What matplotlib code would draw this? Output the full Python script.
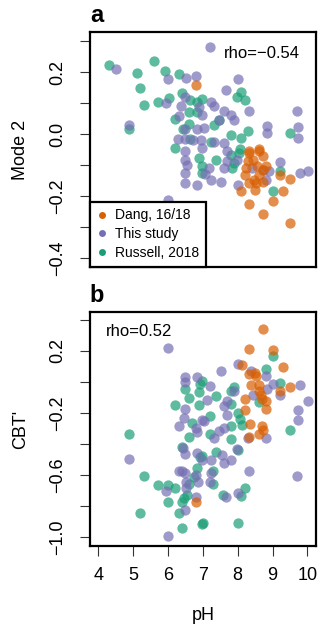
import matplotlib
matplotlib.use("Agg")
import matplotlib.pyplot as plt
from matplotlib.lines import Line2D

plt.rcParams["font.family"] = ["Liberation Sans", "DejaVu Sans"]

# ── data: panel a (Mode 2 vs pH) ──────────────────────────────────────────────
dang_ph_a = [6.81, 8.31, 8.61, 8.32, 8.61, 8.71, 8.28, 8.23, 8.56, 8.80, 9.21,
             8.61, 8.47, 8.32, 8.52, 8.71, 9.50, 8.10, 8.49, 9.31, 8.31, 9.00,
             8.71, 9.50, 8.43, 8.72, 8.20]
dang_mode2 = [0.160, -0.055, -0.047, -0.061, -0.056, -0.072, -0.088, -0.110,
              -0.104, -0.104, -0.133, -0.131, -0.147, -0.158, -0.158, -0.153,
              -0.144, -0.185, -0.180, -0.183, -0.225, -0.217, -0.258, -0.287,
              -0.084, -0.116, -0.132]

study_ph_a = [7.20, 4.51, 6.00, 6.51, 6.81, 8.01, 7.65, 5.95, 6.50, 6.37, 6.88,
              6.98, 6.31, 7.22, 7.31, 7.60, 7.82, 8.32, 9.70, 7.89, 4.89, 6.50,
              6.82, 8.83, 8.83, 9.72, 9.72, 6.28, 6.50, 6.73, 6.96, 7.31, 7.62,
              6.50, 6.98, 7.70, 7.97, 7.68, 7.60, 7.17, 7.07, 7.22, 7.53, 6.50,
              6.55, 6.50, 6.50, 6.82, 6.00, 8.42, 8.90, 9.21, 8.01, 8.80, 9.79,
              10.01, 8.72, 7.45, 7.02]
study_mode2 = [0.282, 0.209, 0.179, 0.182, 0.189, 0.179, 0.143, 0.101, 0.119,
               0.090, 0.087, 0.062, 0.060, 0.103, 0.090, 0.076, 0.062, 0.076,
               0.076, 0.047, 0.030, 0.017, 0.015, 0.025, 0.003, 0.023, -0.013,
               -0.017, -0.017, -0.019, -0.020, -0.026, -0.029, -0.056, -0.045,
               -0.056, -0.083, -0.088, -0.110, -0.110, -0.129, -0.149, -0.155,
               -0.083, -0.099, -0.126, -0.158, -0.164, -0.212, -0.110, -0.120,
               -0.090, -0.164, -0.147, -0.126, -0.118, -0.116, 0.045, 0.019]

russell_ph_a = [4.31, 5.61, 5.11, 5.90, 6.31, 5.20, 6.40, 6.02, 5.70, 5.30, 6.64,
                6.82, 6.59, 6.21, 6.84, 4.89, 6.61, 6.43, 6.64, 6.21, 8.08, 7.99,
                8.20, 6.98, 7.46, 7.31, 8.29, 9.50, 7.80, 8.08, 7.22, 7.39, 7.80,
                8.03, 7.89, 7.84, 6.98, 6.98, 9.21, 9.00, 6.88, 8.06]
russell_mode2 = [0.222, 0.235, 0.198, 0.205, 0.193, 0.149, 0.133, 0.117, 0.105,
                 0.095, 0.109, 0.105, 0.071, 0.049, 0.071, 0.017, 0.033, 0.015,
                 -0.015, -0.044, 0.135, 0.119, 0.111, 0.114, 0.044, 0.028,
                 0.009, 0.004, -0.004, -0.013, -0.024, -0.083, -0.067, -0.061,
                 -0.094, -0.110, -0.104, -0.126, -0.118, -0.182, -0.077, -0.047]

# ── data: panel b (CBT' vs pH) ────────────────────────────────────────────────
dang_ph_b = [8.71, 8.31, 9.00, 8.11, 9.30, 8.31, 8.49, 9.50, 8.39, 8.61, 8.61,
             9.22, 8.69, 8.21, 8.80, 8.80, 8.21, 8.35, 8.69, 8.71, 8.31, 8.61,
             6.79, 8.52, 8.66]
dang_cbt = [0.342, 0.213, 0.209, 0.112, 0.095, 0.052, 0.058, -0.034, -0.021,
            -0.021, -0.060, -0.055, -0.107, -0.107, -0.120, -0.172, -0.183,
            -0.271, -0.281, -0.307, -0.352, -0.337, -0.776, 0.037, -0.086]

study_ph_b = [5.99, 6.50, 6.82, 6.50, 6.50, 6.45, 6.31, 6.79, 7.03, 8.01, 7.51,
              8.37, 8.80, 9.79, 9.00, 8.85, 9.22, 8.45, 10.01, 9.72, 9.72, 7.12,
              7.68, 7.60, 7.20, 7.70, 7.60, 6.98, 7.89, 6.82, 7.31, 7.46, 8.80,
              8.28, 4.89, 5.95, 6.31, 6.40, 6.43, 6.48, 6.82, 6.50, 6.79, 6.85,
              6.53, 6.53, 6.79, 6.50, 6.00, 7.97, 7.56, 7.80, 7.60, 7.22, 6.98,
              8.31, 9.69, 7.22, 7.20, 8.01, 7.65]
study_cbt = [0.219, 0.032, 0.032, -0.002, -0.174, -0.232, -0.286, -0.297,
             -0.254, 0.116, 0.074, 0.074, 0.037, -0.017, -0.013, -0.043, -0.081,
             -0.081, -0.125, -0.178, -0.243, -0.114, -0.125, -0.152, -0.028,
             -0.215, -0.297, -0.243, -0.060, -0.320, -0.359, -0.316, -0.363,
             -0.363, -0.497, -0.701, -0.572, -0.572, -0.428, -0.466, -0.460,
             -0.589, -0.600, -0.647, -0.643, -0.686, -0.739, -0.826, -0.991,
             -0.432, -0.471, -0.503, -0.525, -0.503, -0.503, -0.574, -0.604,
             -0.589, -0.643, -0.718, -0.744]

russell_ph_b = [6.50, 6.93, 6.88, 6.61, 6.21, 6.88, 6.69, 4.89, 9.00, 8.80, 9.22,
                7.89, 7.80, 8.61, 7.39, 7.80, 6.98, 7.20, 8.01, 8.06, 8.13, 7.80,
                9.50, 7.20, 7.80, 5.30, 5.70, 6.00, 6.21, 6.40, 6.91, 6.59, 6.84,
                6.74, 6.59, 6.55, 6.45, 5.99, 6.40, 5.20, 6.31, 6.40, 6.98, 8.01,
                7.39, 6.98, 7.30, 7.30, 8.20, 8.10, 7.59, 7.01, 8.01]
russell_cbt = [-0.043, -0.013, -0.065, -0.103, -0.150, -0.146, -0.265, -0.337,
               0.166, 0.086, -0.006, -0.034, -0.060, -0.131, -0.092, -0.142,
               0.005, -0.221, -0.200, -0.236, -0.275, -0.286, -0.307, -0.337,
               -0.368, -0.606, -0.665, -0.665, -0.686, -0.417, -0.481, -0.352,
               -0.557, -0.610, -0.660, -0.729, -0.750, -0.776, -0.776, -0.843,
               -0.847, -0.939, -0.912, -0.439, -0.454, -0.475, -0.574, -0.654,
               -0.681, -0.733, -0.725, -0.907, -0.907]

series_labels = ["Dang, 16/18", "This study", "Russell, 2018"]
rho_a = "rho=\u22120.54"
rho_b = "rho=0.52"

# ── style ─────────────────────────────────────────────────────────────────────
ORANGE = "#D95F02"
PURPLE = "#7570B3"
GREEN = "#1B9E77"
PT_SIZE = 55
PT_ALPHA = 0.7
FS = 13       # tick + axis labels
FS_RHO = 12
FS_LEG = 10
FS_TAG = 17


def style_axes(ax, yticks, ylabels, yminor):
    for sp in ax.spines.values():
        sp.set_linewidth(1.6)
    ax.set_xlim(3.76, 10.24)
    ax.set_yticks(yminor, minor=True)
    ax.set_yticks(yticks)
    ax.set_yticklabels(ylabels, rotation=90, va="center", fontsize=FS)
    ax.tick_params(axis="y", which="both", direction="out", length=7,
                   width=0.8, pad=10, color="#333333")
    ax.tick_params(axis="y", which="minor", labelleft=False)


def scatter_sets(ax, sets):
    for x, y, c in sets:
        ax.scatter(x, y, s=PT_SIZE, color=c, alpha=PT_ALPHA, linewidths=0,
                   zorder=3)


fig = plt.figure(figsize=(3.21, 6.30), dpi=100)
ax_a = fig.add_axes([0.280, 0.576, 0.704, 0.373])
ax_b = fig.add_axes([0.280, 0.133, 0.704, 0.372])

# panel a
scatter_sets(ax_a, [(russell_ph_a, russell_mode2, GREEN),
                    (study_ph_a, study_mode2, PURPLE),
                    (dang_ph_a, dang_mode2, ORANGE)])
ax_a.set_ylim(-0.429, 0.329)
style_axes(ax_a, [-0.4, -0.2, 0.0, 0.2],
           ["\u22120.4", "\u22120.2", "0.0", "0.2"],
           [-0.3, -0.1, 0.1, 0.3])
ax_a.set_xticks([])
ax_a.set_ylabel("Mode 2", fontsize=FS)
ax_a.yaxis.set_label_coords(-0.27, 0.5)
ax_a.text(0.93, 0.91, rho_a, transform=ax_a.transAxes, ha="right",
          va="center", fontsize=FS_RHO)
ax_a.text(0.0, 1.02, "a", transform=ax_a.transAxes, ha="left", va="bottom",
          fontsize=FS_TAG, fontweight="bold")

handles = [Line2D([], [], linestyle="none", marker="o", markersize=5,
                  markerfacecolor=c, markeredgewidth=0)
           for c in (ORANGE, PURPLE, GREEN)]
leg = ax_a.legend(handles, series_labels, loc="lower left", borderaxespad=0,
                  fancybox=False, framealpha=1, edgecolor="black",
                  fontsize=FS_LEG, handlelength=0.8, handletextpad=0.5,
                  labelspacing=0.35, borderpad=0.5)
leg.get_frame().set_linewidth(1.6)
leg.set_zorder(5)

# panel b
scatter_sets(ax_b, [(russell_ph_b, russell_cbt, GREEN),
                    (study_ph_b, study_cbt, PURPLE),
                    (dang_ph_b, dang_cbt, ORANGE)])
ax_b.set_ylim(-1.058, 0.452)
style_axes(ax_b, [-1.0, -0.6, -0.2, 0.2],
           ["\u22121.0", "\u22120.6", "\u22120.2", "0.2"],
           [-0.8, -0.4, 0.0, 0.4])
ax_b.set_xticks(range(4, 11))
ax_b.tick_params(axis="x", direction="out", length=7, width=0.8, pad=8,
                 labelsize=FS, color="#333333")
ax_b.set_ylabel("CBT'", fontsize=FS)
ax_b.yaxis.set_label_coords(-0.27, 0.5)
ax_b.set_xlabel("pH", fontsize=FS)
ax_b.xaxis.set_label_coords(0.5, -0.26)
ax_b.text(0.071, 0.915, rho_b, transform=ax_b.transAxes, ha="left",
          va="center", fontsize=FS_RHO)
ax_b.text(0.0, 1.02, "b", transform=ax_b.transAxes, ha="left", va="bottom",
          fontsize=FS_TAG, fontweight="bold")

fig.savefig("out.png", dpi=100)
